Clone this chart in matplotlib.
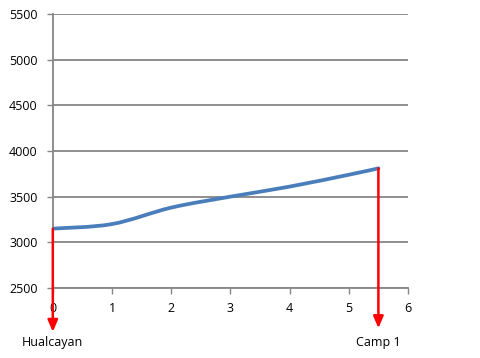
import matplotlib.pyplot as plt
import numpy as np
from matplotlib.path import Path
from matplotlib.patches import PathPatch

# --- Data ---
dist_km = [0, 1, 2, 3, 4, 5, 5.5]
altitude_m = [3150, 3200, 3380, 3500, 3610, 3740, 3810]
y_ticks = [2500, 3000, 3500, 4000, 4500, 5000, 5500]
x_ticks = [0, 1, 2, 3, 4, 5, 6]
start_label = "Hualcayan"
end_label = "Camp 1"

GRID = "#868686"
BLUE = "#4a7ebb"
FS = 9

plt.rcParams["font.family"] = ["Open Sans", "DejaVu Sans"]

fig = plt.figure(figsize=(4.8, 3.58), dpi=100)
ax = fig.add_axes([0.110, 0.1955, 0.740, 0.7655])

# smoothed line (Excel style): cubic Bezier segments with Catmull-Rom control points
pts = np.column_stack([dist_km, altitude_m]).astype(float)
verts = [pts[0]]
codes = [Path.MOVETO]
n = len(pts)
for i in range(n - 1):
    p0 = pts[i - 1] if i > 0 else pts[i]
    p1, p2 = pts[i], pts[i + 1]
    p3 = pts[i + 2] if i + 2 < n else pts[i + 1]
    c1 = p1 + (p2 - p0) / 6.0
    c2 = p2 - (p3 - p1) / 6.0
    verts += [c1, c2, p2]
    codes += [Path.CURVE4] * 3
ax.add_patch(PathPatch(Path(verts, codes), facecolor="none", edgecolor=BLUE,
                       linewidth=2.7, capstyle="round", zorder=3))

ax.set_xlim(0, 6)
ax.set_ylim(2500, 5500)
ax.set_xticks(x_ticks)
ax.set_yticks(y_ticks)
ax.set_xticklabels([str(v) for v in x_ticks])
ax.set_yticklabels([str(v) for v in y_ticks])

ax.grid(axis="y", color=GRID, linewidth=1.3)
ax.set_axisbelow(True)
for side in ["top", "right"]:
    ax.spines[side].set_visible(False)
for side in ["left", "bottom"]:
    ax.spines[side].set_color(GRID)
    ax.spines[side].set_linewidth(1.3)
ax.tick_params(axis="both", colors=GRID, length=4, width=1.0, labelcolor="black",
               labelsize=FS)
ax.tick_params(axis="y", pad=7)
ax.tick_params(axis="x", pad=6)

# red arrows marking the start and end of the stretch
arrow_kw = dict(arrowstyle="-|>,head_length=0.7,head_width=0.3", color="red",
                lw=1.8, shrinkA=0, shrinkB=0)
ax.annotate("", xy=(dist_km[0], 2020), xytext=(dist_km[0], altitude_m[0]),
            arrowprops=arrow_kw, annotation_clip=False, zorder=4)
ax.annotate("", xy=(dist_km[-1], 2060), xytext=(dist_km[-1], altitude_m[-1]),
            arrowprops=arrow_kw, annotation_clip=False, zorder=4)

# the "0" label sits on top of the left arrow
lbl0 = ax.get_xticklabels()[0]
lbl0.set_bbox(dict(facecolor="white", edgecolor="none", pad=1.0))
lbl0.set_zorder(5)

ax.text(dist_km[0], 1905, start_label, ha="center", va="center", fontsize=FS,
        clip_on=False)
ax.text(dist_km[-1], 1905, end_label, ha="center", va="center", fontsize=FS,
        clip_on=False)

fig.savefig("out.png", dpi=100)
